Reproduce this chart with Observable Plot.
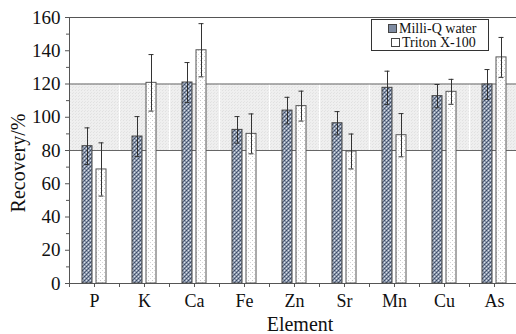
<!DOCTYPE html>
<html>
<head>
<meta charset="utf-8">
<script src="https://cdn.jsdelivr.net/npm/d3@7"></script>
<script src="https://cdn.jsdelivr.net/npm/@observablehq/plot@0.6"></script>
<style>
  html, body { margin: 0; padding: 0; background: #fff; }
  #wrap { position: relative; width: 516px; height: 334px; overflow: hidden; font-family: 'Liberation Serif', 'DejaVu Serif', serif; }
  #wrap svg text { font-family: 'Liberation Serif', 'DejaVu Serif', serif; }
  #legend { position: absolute; left: 371px; top: 19px; width: 116px; height: 30px; border: 1px solid #333; background: #fff; font-size: 14px; color: #111; }
  .row { position: absolute; white-space: nowrap; line-height: 14px; }
  .sw { display: inline-block; width: 7px; height: 7px; border: 1px solid #444; margin-right: 2px; vertical-align: 0px; }
  .title { position: absolute; font-size: 20px; line-height: 20px; color: #111; white-space: nowrap; text-align: center; }
  #ytitle { left: -42px; top: 153px; width: 120px; transform: rotate(-90deg); transform-origin: 60px 10px; }
  #xtitle { left: 240px; top: 314px; width: 120px; }
</style>
</head>
<body>
<svg width="0" height="0" style="position:absolute">
  <defs>
    <pattern id="mq" patternUnits="userSpaceOnUse" width="4" height="4">
      <rect width="4" height="4" fill="#8c99ae"/>
      <rect x="0" y="0" width="1" height="1" fill="#3a465e"/>
      <rect x="2" y="2" width="1" height="1" fill="#3a465e"/>
      <rect x="2" y="0" width="1" height="1" fill="#dde2ea"/>
      <rect x="0" y="2" width="1" height="1" fill="#dde2ea"/>
      <rect x="1" y="3" width="1" height="1" fill="#5a667e"/>
      <rect x="3" y="1" width="1" height="1" fill="#5a667e"/>
    </pattern>
    <pattern id="tx" patternUnits="userSpaceOnUse" width="4" height="4">
      <rect width="4" height="4" fill="#ffffff"/>
      <rect x="0" y="0" width="1" height="1" fill="#c8c8c8"/>
      <rect x="2" y="2" width="1" height="1" fill="#d8d8d8"/>
    </pattern>
    <pattern id="band" patternUnits="userSpaceOnUse" width="3" height="3">
      <rect width="3" height="3" fill="#efefef"/>
      <rect x="0" y="0" width="1" height="1" fill="#e0e0e0"/>
      <rect x="1" y="2" width="1" height="1" fill="#e4e4e4"/>
    </pattern>
  </defs>
</svg>
<div id="wrap">
  <div id="chart"></div>
  <div id="legend">
    <div class="row" style="left:16px; top:2px;"><span class="sw" style="background:#7f8ca2;"></span>Milli-Q water</div>
    <div class="row" style="left:19px; top:16px;"><span class="sw" style="background:#fff;"></span>Triton X-100</div>
  </div>
  <div id="ytitle" class="title">Recovery/%</div>
  <div id="xtitle" class="title">Element</div>
</div>
<script>
// ---- data ----
const elements = ["P", "K", "Ca", "Fe", "Zn", "Sr", "Mn", "Cu", "As"];
const milliQ      = [82.6, 88.4, 120.9, 92.4, 104.0, 96.4, 117.7, 112.7, 119.7];
const milliQErr   = [11, 12, 12, 8, 8, 7, 10, 7, 9];
const triton      = [68.6, 120.7, 140.3, 90.0, 106.7, 79.4, 89.2, 115.3, 136.0];
const tritonErr   = [16, 17, 16, 12, 9, 10.5, 13, 7.5, 12];
const yMajorTicks = [0, 20, 40, 60, 80, 100, 120, 140, 160];
const yMinorTicks = [10, 30, 50, 70, 90, 110, 130, 150];
const bandLow = 80, bandHigh = 120;

const mq = elements.map((e, i) => ({element: e, value: milliQ[i], err: milliQErr[i]}));
const tx = elements.map((e, i) => ({element: e, value: triton[i], err: tritonErr[i]}));
const band = [{lo: bandLow, hi: bandHigh}];

const ink = "#555";
const errInk = "#333";
const serif = "'Liberation Serif', 'DejaVu Serif', serif";

const chart = Plot.plot({
  width: 516,
  height: 334,
  marginLeft: 69,
  marginRight: -3,
  marginTop: 17,
  marginBottom: 51,
  style: {fontFamily: serif, fontSize: "19px", color: "#111", background: "transparent"},
  x: {domain: elements, padding: 0, label: null},
  y: {domain: [0, 160], label: null},
  marks: [
    // shaded acceptance band
    Plot.rect(band, {y1: "lo", y2: "hi", fill: "url(#band)"}),
    Plot.ruleX(elements, {x: d => d, dx: -25, y1: bandLow, y2: bandHigh, stroke: "#fff", strokeWidth: 1.2}),
    Plot.ruleY([bandLow, bandHigh], {stroke: "#666", strokeWidth: 1}),
    // bars
    Plot.barY(mq, {x: "element", y: "value", fill: "url(#mq)", stroke: "#444", strokeWidth: 1, insetLeft: 13, insetRight: 27}),
    Plot.barY(tx, {x: "element", y: "value", fill: "url(#tx)", stroke: "#555", strokeWidth: 1, insetLeft: 27, insetRight: 13}),
    // error bars
    Plot.ruleX(mq, {x: "element", dx: -7, y1: d => d.value - d.err, y2: d => d.value + d.err, stroke: errInk, strokeWidth: 1}),
    Plot.tickY(mq, {x: "element", y: d => d.value + d.err, stroke: errInk, insetLeft: 15.5, insetRight: 29.5}),
    Plot.tickY(mq, {x: "element", y: d => d.value - d.err, stroke: errInk, insetLeft: 15.5, insetRight: 29.5}),
    Plot.ruleX(tx, {x: "element", dx: 7, y1: d => d.value - d.err, y2: d => d.value + d.err, stroke: errInk, strokeWidth: 1}),
    Plot.tickY(tx, {x: "element", y: d => d.value + d.err, stroke: errInk, insetLeft: 29.5, insetRight: 15.5}),
    Plot.tickY(tx, {x: "element", y: d => d.value - d.err, stroke: errInk, insetLeft: 29.5, insetRight: 15.5}),
    // frame lines
    Plot.ruleY([0, 160], {stroke: ink}),
    Plot.ruleX(elements.slice(0, 1), {x: d => d, dx: -25, stroke: ink}),
    // axes
    Plot.axisY({ticks: yMajorTicks, tickSize: 4, tickPadding: 5, fontSize: 19, fontFamily: serif, stroke: ink, label: null}),
    Plot.axisY({ticks: yMinorTicks, tickSize: 3, tickFormat: () => "", stroke: ink, label: null}),
    Plot.axisX({tickSize: 4, tickPadding: 7, fontSize: 18, fontFamily: serif, stroke: ink, label: null}),
    Plot.axisX({tickSize: 4, dx: -25, tickFormat: () => "", stroke: ink, label: null})
  ]
});
document.getElementById("chart").appendChild(chart);
</script>
</body>
</html>
